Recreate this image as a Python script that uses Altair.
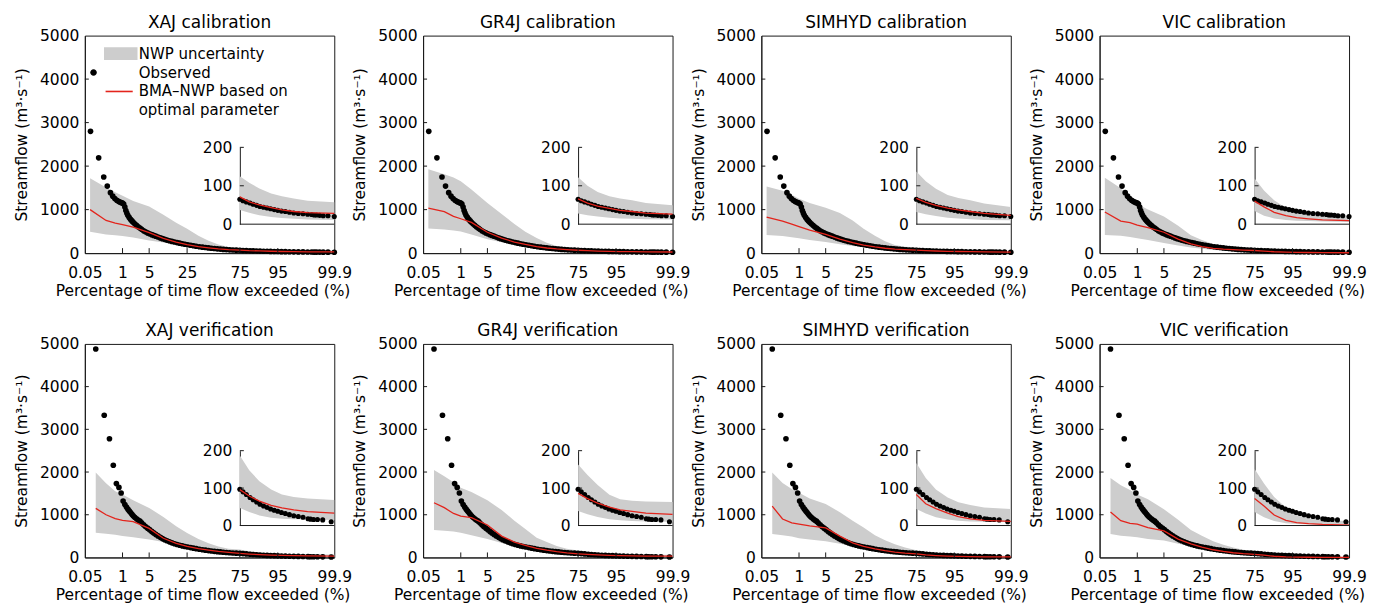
import altair as alt
import pandas as pd
from statistics import NormalDist

FONT = "DejaVu Sans"
GRAY = "#cdcdcd"
RED = "#e3241c"
INK = "#1a1a1a"

TITLES = ["XAJ calibration", "GR4J calibration", "SIMHYD calibration", "VIC calibration",
          "XAJ verification", "GR4J verification", "SIMHYD verification", "VIC verification"]
XTITLE = "Percentage of time flow exceeded (%)"
YTITLE = "Streamflow (m³·s⁻¹)"
TICK_PCT = [0.05, 1, 5, 25, 75, 95, 99.9]
TICK_LAB = ["0.05", "1", "5", "25", "75", "95", "99.9"]
Y_TICKS = [0, 1000, 2000, 3000, 4000, 5000]
INSET_TICKS = [0, 100, 200]
LEG_LABELS = ["NWP uncertainty", "Observed", "BMA\u2013NWP based on", "optimal parameter"]

# exceedance grid (%) for the uncertainty band and the BMA line
GRID_CAL = [0.08, 0.3, 0.6, 1, 2, 5, 10, 17, 25, 35, 45, 55, 65, 75, 82, 88, 93, 96, 98, 99.2, 99.9]
GRID_VER = [0.13, 0.3, 0.6, 1, 2, 5, 10, 17, 25, 35, 45, 55, 65, 75, 82, 88, 93, 96, 98, 99.2, 99.9]

XAJ_CAL_UP = [1720, 1510, 1400, 1320, 1200, 1070, 880, 700, 560, 400, 285, 200, 140, 125, 108, 93, 80, 73, 67, 61, 57]
XAJ_CAL_LO = [490, 430, 410, 395, 360, 290, 245, 195, 160, 118, 82, 62, 47, 37, 30, 23, 19, 16, 14, 12, 11]
XAJ_CAL_BMA = [1000, 750, 690, 655, 595, 470, 340, 250, 195, 150, 120, 96, 80, 71, 58, 50, 43, 37, 33, 30, 28]

GR4J_CAL_UP = [1930, 1815, 1740, 1650, 1460, 1150, 900, 670, 490, 350, 240, 165, 135, 122, 100, 84, 73, 67, 62, 55, 49]
GR4J_CAL_LO = [565, 545, 520, 495, 430, 320, 250, 190, 145, 112, 85, 62, 42, 28, 23, 20, 17, 15, 14, 13, 12]
GR4J_CAL_BMA = [1035, 955, 845, 790, 705, 480, 345, 255, 200, 150, 118, 96, 80, 66, 55, 47, 41, 36, 33, 29, 26]

SIMHYD_CAL_UP = [1530, 1435, 1340, 1250, 1150, 1040, 920, 750, 560, 400, 275, 185, 145, 137, 112, 92, 76, 68, 62, 54, 45]
SIMHYD_CAL_LO = [415, 395, 365, 340, 300, 255, 205, 165, 135, 112, 92, 70, 48, 32, 26, 21, 17, 15, 13, 11, 10]
SIMHYD_CAL_BMA = [830, 735, 665, 610, 530, 430, 320, 240, 185, 142, 112, 92, 78, 67, 57, 49, 42, 37, 33, 28, 23]

VIC_CAL_UP = [1735, 1490, 1280, 1130, 1000, 840, 630, 410, 300, 210, 165, 140, 128, 119, 88, 62, 42, 31, 26, 22, 20]
VIC_CAL_LO = [415, 400, 370, 340, 300, 235, 175, 127, 100, 72, 58, 48, 40, 34, 22, 15, 11, 9, 8, 7, 6]
VIC_CAL_BMA = [945, 735, 700, 645, 585, 480, 320, 215, 150, 110, 90, 78, 68, 60, 45, 31, 22, 17, 14, 11, 9]

XAJ_VER_UP = [1990, 1740, 1550, 1475, 1340, 1160, 950, 730, 570, 430, 330, 255, 205, 187, 148, 118, 96, 83, 76, 72, 68]
XAJ_VER_LO = [580, 555, 530, 500, 470, 420, 360, 300, 250, 195, 150, 110, 75, 47, 36, 27, 21, 18, 17, 16, 15]
XAJ_VER_BMA = [1150, 1000, 910, 870, 840, 680, 450, 330, 260, 205, 170, 140, 118, 96, 79, 65, 54, 47, 42, 37, 33]

GR4J_VER_UP = [2050, 1900, 1760, 1630, 1530, 1340, 1110, 860, 664, 460, 360, 270, 205, 163, 135, 108, 82, 70, 66, 64, 63]
GR4J_VER_LO = [640, 625, 605, 580, 520, 430, 340, 270, 220, 170, 130, 95, 65, 39, 30, 23, 17, 14, 12, 11, 10]
GR4J_VER_BMA = [1280, 1165, 1030, 970, 930, 760, 500, 360, 280, 215, 170, 135, 108, 86, 72, 60, 49, 42, 38, 33, 30]

SIMHYD_VER_UP = [1990, 1744, 1600, 1513, 1380, 1250, 1060, 860, 700, 520, 400, 310, 230, 167, 127, 96, 75, 62, 55, 48, 44]
SIMHYD_VER_LO = [550, 520, 490, 450, 420, 380, 320, 265, 220, 170, 125, 95, 68, 44, 32, 22, 16, 13, 11, 10, 9]
SIMHYD_VER_BMA = [1200, 900, 810, 780, 740, 690, 500, 340, 260, 200, 158, 125, 100, 83, 58, 45, 33, 24, 18, 14, 11]

VIC_VER_UP = [1860, 1690, 1580, 1475, 1360, 1130, 880, 640, 510, 380, 300, 230, 180, 151, 112, 76, 48, 30, 20, 14, 12]
VIC_VER_LO = [548, 510, 490, 471, 430, 394, 320, 260, 200, 150, 110, 75, 50, 36, 22, 12, 6, 4, 3, 2, 1]
VIC_VER_BMA = [1065, 860, 800, 780, 700, 620, 430, 320, 240, 180, 140, 110, 88, 72, 52, 28, 14, 8, 5, 3, 1]

# observed flow duration points (same observed series in every panel of a row)
OBS_CAL_P = [0.083, 0.166, 0.25, 0.33, 0.42, 0.5, 0.58, 0.67, 0.75, 0.83,
             0.92, 1.0, 1.08, 1.17, 1.25, 1.33, 1.42, 1.55, 1.7, 1.85,
             2.0, 2.2, 2.45, 2.7, 3.0, 3.3, 3.7, 4.1, 4.6, 5.1,
             5.7, 6.3, 7.0, 7.8, 8.7, 9.6, 10.6, 11.7, 13, 14.4,
             16, 17.6, 19.4, 21.3, 23.3, 25.5, 28, 30.5, 33, 36,
             39, 42, 45, 48, 51, 54, 57, 60, 63, 66,
             69, 72, 75, 77.5, 80, 82.5, 84.5, 86.5, 88.3, 90,
             91.5, 92.8, 94, 95, 95.9, 96.7, 97.4, 98, 98.5, 98.9,
             99.2, 99.4, 99.5, 99.58, 99.67, 99.75, 99.83, 99.9]
OBS_CAL_V = [2800, 2190, 1750, 1540, 1390, 1310, 1255, 1215, 1190, 1175,
             1160, 1150, 1130, 1060, 980, 920, 870, 820, 775, 740,
             710, 675, 640, 605, 575, 548, 515, 490, 465, 445,
             425, 407, 390, 370, 350, 333, 316, 300, 284, 269,
             255, 242, 229, 216, 204, 192, 180, 169, 158, 147,
             137, 128, 120, 112, 105, 98, 92, 86, 81, 76,
             72, 68, 65, 61, 58, 55, 52, 49, 46, 44,
             42, 40, 38, 36, 34, 33, 31, 29, 28, 27,
             26, 25, 24, 24, 23, 22, 22, 20]
OBS_VER_P = [0.13, 0.26, 0.39, 0.52, 0.65, 0.78, 0.91, 1.04, 1.17, 1.3,
             1.43, 1.56, 1.7, 1.85, 2.0, 2.2, 2.45, 2.7, 3.0, 3.3,
             3.7, 4.1, 4.6, 5.1, 5.7, 6.3, 7.0, 7.8, 8.7, 9.6,
             10.6, 11.7, 13, 14.4, 16, 17.6, 19.4, 21.3, 23.3, 25.5,
             28, 30.5, 33, 36, 39, 42, 45, 48, 51, 54,
             57, 60, 63, 66, 69, 72, 75, 77.5, 80, 82.5,
             84.5, 86.5, 88.3, 90, 91.5, 92.8, 94, 95, 95.9, 96.7,
             97.4, 98, 98.5, 98.9, 99.22, 99.35, 99.48, 99.61, 99.74, 99.87]
OBS_VER_V = [4880, 3330, 2780, 2160, 1730, 1640, 1510, 1320, 1240, 1180,
             1130, 1090, 1050, 1010, 975, 940, 905, 875, 850, 810,
             765, 725, 685, 650, 610, 575, 540, 505, 470, 442,
             415, 390, 365, 342, 320, 302, 285, 270, 257, 244,
             230, 217, 205, 192, 180, 170, 160, 151, 143, 136,
             129, 122, 116, 110, 105, 101, 97, 90, 83, 75,
             69, 63, 57, 52, 48, 44, 41, 38, 35, 32,
             29, 26, 24, 22, 18, 17, 16, 16, 15, 10]

PANEL_SERIES = [
    (XAJ_CAL_UP, XAJ_CAL_LO, XAJ_CAL_BMA), (GR4J_CAL_UP, GR4J_CAL_LO, GR4J_CAL_BMA),
    (SIMHYD_CAL_UP, SIMHYD_CAL_LO, SIMHYD_CAL_BMA), (VIC_CAL_UP, VIC_CAL_LO, VIC_CAL_BMA),
    (XAJ_VER_UP, XAJ_VER_LO, XAJ_VER_BMA), (GR4J_VER_UP, GR4J_VER_LO, GR4J_VER_BMA),
    (SIMHYD_VER_UP, SIMHYD_VER_LO, SIMHYD_VER_BMA), (VIC_VER_UP, VIC_VER_LO, VIC_VER_BMA),
]

# ---------------- layout ----------------
W = 250
ROW_H = [218, 214]
INSET_RANGE = [[189, 112], [182, 107]]
LABEL_FS = 15.5

ND = NormalDist()


def probit(p):
    return ND.inv_cdf(p / 100.0)


ZMIN, ZMAX = probit(TICK_PCT[0]), probit(TICK_PCT[-1])
Z75 = probit(75)
INSET_OFFSET = (Z75 - ZMIN) / (ZMAX - ZMIN) * W
DZ_TICK = 4 * (ZMAX - ZMIN) / W

XVALS = [probit(t) for t in TICK_PCT]
expr = f"'{TICK_LAB[-1]}'"
for i in range(len(XVALS) - 2, -1, -1):
    mid = (XVALS[i] + XVALS[i + 1]) / 2
    expr = f"datum.value < {mid:.4f} ? '{TICK_LAB[i]}' : ({expr})"
LABEL_EXPR = expr

XSCALE = alt.Scale(domain=[ZMIN, ZMAX], nice=False, zero=False)
XAXIS = alt.Axis(title=XTITLE, values=XVALS, labelExpr=LABEL_EXPR, ticks=False,
                 labelPadding=12, titlePadding=3, grid=False, titleX=W / 2 - 7)
YAXIS = alt.Axis(title=YTITLE, values=Y_TICKS, format="d", ticks=False, labelPadding=6,
                 titlePadding=10, grid=False)


def xenc(field):
    return alt.X(f"{field}:Q", scale=XSCALE, axis=XAXIS)


def ymain(field):
    return alt.Y(f"{field}:Q", scale=alt.Scale(domain=[0, 5000], nice=False), axis=YAXIS)


def yinset(field, row):
    return alt.Y(f"{field}:Q",
                 scale=alt.Scale(domain=[0, 200], range=INSET_RANGE[row], nice=False),
                 axis=alt.Axis(orient="left", offset=-INSET_OFFSET, values=INSET_TICKS,
                               format="d", ticks=False, labelPadding=8, title=None, grid=False))


LEG_SHAPES = [
    "M-2.1,-0.8H2.1V0.8H-2.1Z",
    "M-3.0,0A0.41,0.41 0 1,1 -3.82,0A0.41,0.41 0 1,1 -3.0,0Z",
    "M-1.9,-0.1H1.5V0.1H-1.9Z",
    "M0,0L0,0Z",
]
LEG_COLORS = [GRAY, "black", RED, "white"]


def panel(i):
    row = i // 4
    H = ROW_H[row]
    grid = GRID_CAL if row == 0 else GRID_VER
    up, lo, bma = PANEL_SERIES[i]
    band = pd.DataFrame({"p": grid, "z": [probit(p) for p in grid],
                         "upper": up, "lower": lo, "bma": bma})
    op = OBS_CAL_P if row == 0 else OBS_VER_P
    ov = OBS_CAL_V if row == 0 else OBS_VER_V
    obs = pd.DataFrame({"p": op, "z": [probit(p) for p in op], "obs": ov})
    xt = pd.DataFrame({"z": [probit(t) for t in TICK_PCT[1:-1]]})
    yt = pd.DataFrame({"v": Y_TICKS[1:-1]})
    frame = pd.DataFrame({"z1": [Z75], "z2": [ZMAX], "v": [0]})
    itick = pd.DataFrame({"z1": [Z75, Z75], "z2": [Z75 + DZ_TICK] * 2, "v": INSET_TICKS[1:]})

    layers = [
        alt.Chart(band).mark_area(color=GRAY).encode(x=xenc("z"), y=ymain("upper"), y2="lower:Q"),
        alt.Chart(obs).mark_circle(size=32, color="black", opacity=1).encode(x=xenc("z"), y=ymain("obs")),
        alt.Chart(band).mark_line(color=RED, strokeWidth=1.3).encode(x=xenc("z"), y=ymain("bma")),
        alt.Chart(xt).mark_rule(color=INK).encode(x=xenc("z"), y=alt.value(H), y2=alt.value(H - 5)),
        alt.Chart(yt).mark_rule(color=INK).encode(y=ymain("v"), x=alt.value(0), x2=alt.value(4)),
    ]
    if i == 0:
        leg = pd.DataFrame({"series": LEG_LABELS, "z": [0.0] * 4, "v": [0.0] * 4})
        legend = alt.Legend(title=None, orient="none", legendX=28, legendY=10,
                            labelFont=FONT, labelFontSize=15, labelColor="black",
                            symbolSize=256, labelOffset=10, rowPadding=3, padding=0,
                            labelLimit=400, symbolStrokeWidth=0, symbolOpacity=1)
        layers.append(
            alt.Chart(leg).transform_filter("false")
            .mark_point(filled=True, opacity=1, strokeWidth=0)
            .encode(x=xenc("z"), y=ymain("v"),
                    color=alt.Color("series:N", scale=alt.Scale(domain=LEG_LABELS, range=LEG_COLORS), legend=legend),
                    shape=alt.Shape("series:N", scale=alt.Scale(domain=LEG_LABELS, range=LEG_SHAPES), legend=legend))
        )
    main = alt.layer(*layers)

    inset = alt.layer(
        alt.Chart(band).transform_filter("datum.p >= 75").mark_area(color=GRAY)
        .encode(x=xenc("z"), y=yinset("upper", row), y2="lower:Q"),
        alt.Chart(obs).transform_filter("datum.p >= 75").mark_circle(size=26, color="black", opacity=1)
        .encode(x=xenc("z"), y=yinset("obs", row)),
        alt.Chart(band).transform_filter("datum.p >= 75").mark_line(color=RED, strokeWidth=1.3)
        .encode(x=xenc("z"), y=yinset("bma", row)),
        alt.Chart(frame).mark_rule(color=INK).encode(x=xenc("z1"), x2="z2:Q", y=yinset("v", row)),
        alt.Chart(itick).mark_rule(color=INK).encode(x=xenc("z1"), x2="z2:Q", y=yinset("v", row)),
    )
    return (alt.layer(main, inset).resolve_scale(y="independent")
            .properties(width=W, height=H, title=TITLES[i]))


panels = [panel(i) for i in range(8)]

chart = (
    alt.concat(*panels, columns=4, spacing={"row": 91, "column": 89})
    .properties(bounds="flush", padding={"left": 6, "top": 4, "right": 0, "bottom": 0})
    .resolve_scale(x="independent", y="independent", color="independent", shape="independent")
    .resolve_legend(color="independent", shape="independent")
    .configure_view(stroke=INK, strokeWidth=1)
    .configure_axis(labelFont=FONT, titleFont=FONT, labelFontSize=LABEL_FS, titleFontSize=15.5,
                    titleFontWeight="normal", labelColor="black", titleColor="black",
                    domainColor=INK, labelFlush=False, labelOverlap=False, grid=False)
    .configure_title(font=FONT, fontSize=17, fontWeight="normal", color="black",
                     offset=-3, anchor="middle")
)

chart.save("out.html", embed_options={"renderer": "svg", "actions": False})
